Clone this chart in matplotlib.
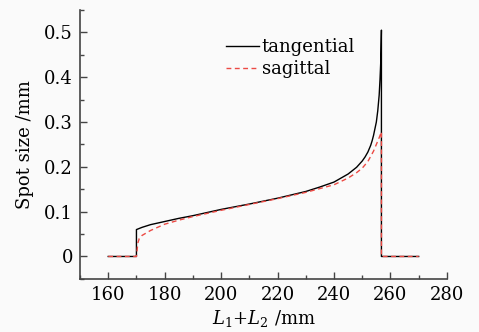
import matplotlib
matplotlib.use("Agg")
import matplotlib.pyplot as plt
from matplotlib.ticker import MultipleLocator

# tangential spot size vs L1+L2
tan_x = [160, 170, 170, 172, 175, 180, 185, 190, 200, 210, 220, 230, 235, 240,
         245, 248, 250, 251, 252, 253, 253.5, 254, 255, 255.5, 256, 256.3, 256.6,
         256.8, 256.8, 270]
tan_y = [0, 0, 0.06, 0.065, 0.071, 0.078, 0.085, 0.091, 0.105, 0.117, 0.13, 0.145,
         0.155, 0.166, 0.184, 0.199, 0.213, 0.222, 0.233, 0.248, 0.258, 0.27, 0.3,
         0.325, 0.36, 0.395, 0.44, 0.505, 0, 0]

# sagittal spot size vs L1+L2
sag_x = [160, 170, 170.5, 171, 172, 175, 180, 185, 190, 200, 210, 220, 230, 240,
         245, 248, 250, 252, 254, 255, 256, 256.8, 256.8, 270]
sag_y = [0, 0, 0.03, 0.04, 0.047, 0.058, 0.072, 0.081, 0.089, 0.103, 0.116, 0.129,
         0.143, 0.16, 0.175, 0.187, 0.197, 0.212, 0.235, 0.25, 0.265, 0.278, 0, 0]

plt.rcParams['font.family'] = ['DejaVu Serif']
plt.rcParams['mathtext.fontset'] = 'dejavuserif'
plt.rcParams['font.size'] = 13

fig = plt.figure(figsize=(4.79, 3.32), dpi=100, facecolor='#fafafa')
ax = fig.add_axes([0.167, 0.16, 0.766, 0.81])
ax.set_facecolor('#fafafa')

ax.plot(tan_x, tan_y, color='black', lw=1.0, label='tangential')
ax.plot(sag_x, sag_y, color='#ec4a44', lw=1.0, ls=(0, (3.5, 2.5)), label='sagittal')

ax.set_xlim(150, 280)
ax.set_ylim(-0.05, 0.55)
ax.xaxis.set_major_locator(MultipleLocator(20))
ax.xaxis.set_minor_locator(MultipleLocator(10))
ax.yaxis.set_minor_locator(MultipleLocator(0.05))
ax.set_yticks([0, 0.1, 0.2, 0.3, 0.4, 0.5])
ax.set_yticklabels(['0', '0.1', '0.2', '0.3', '0.4', '0.5'])
ax.tick_params(direction='in', which='major', length=5, width=1, color='#444444',
               pad=5)
ax.tick_params(direction='in', which='minor', length=3, width=1, color='#444444')

for s in ['top', 'right']:
    ax.spines[s].set_visible(False)
for s in ['left', 'bottom']:
    ax.spines[s].set_linewidth(1.2)
    ax.spines[s].set_color('#444444')

ax.set_ylabel('Spot size /mm', labelpad=7)
ax.set_xlabel('$L_1$+$L_2$ /mm', labelpad=3)

ax.legend(loc='upper left', bbox_to_anchor=(0.355, 0.955), frameon=False,
          handlelength=1.8, handletextpad=0.15, labelspacing=0.2, fontsize=13)

fig.savefig('out.png', dpi=100, facecolor=fig.get_facecolor())
